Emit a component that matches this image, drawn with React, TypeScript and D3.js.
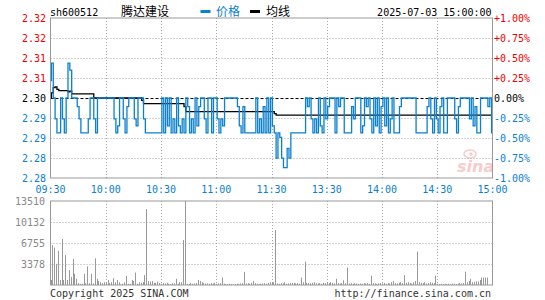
import * as d3 from "d3";

// per-minute price, 09:30 .. 11:30 then 13:01 .. 15:00 (241 points)
const prices = [
  2.305, 2.31, 2.30, 2.294, 2.29, 2.29, 2.30, 2.294, 2.29, 2.30,
  2.31, 2.308, 2.30, 2.30, 2.30, 2.2975, 2.294, 2.29, 2.29, 2.29,
  2.29, 2.294, 2.30, 2.30, 2.294, 2.29, 2.30, 2.30, 2.30, 2.30,
  2.30, 2.30, 2.30, 2.30, 2.30, 2.294, 2.29, 2.292, 2.30, 2.30,
  2.294, 2.29, 2.2975, 2.30, 2.30, 2.30, 2.294, 2.292, 2.30, 2.30,
  2.30, 2.294, 2.29, 2.29, 2.29, 2.29, 2.29, 2.29, 2.29, 2.29,
  2.29, 2.30, 2.29, 2.30, 2.292, 2.30, 2.29, 2.294, 2.29, 2.30,
  2.292, 2.29, 2.294, 2.29, 2.30, 2.2975, 2.29, 2.294, 2.29, 2.30,
  2.292, 2.2975, 2.30, 2.30, 2.294, 2.29, 2.30, 2.30, 2.29, 2.30,
  2.30, 2.294, 2.29, 2.294, 2.292, 2.30, 2.30, 2.30, 2.30, 2.30,
  2.30, 2.30, 2.2975, 2.292, 2.29, 2.2975, 2.29, 2.29, 2.29, 2.29,
  2.29, 2.29, 2.30, 2.29, 2.294, 2.29, 2.2975, 2.29, 2.30, 2.29,
  2.30, 2.292, 2.29, 2.2827, 2.29, 2.2887, 2.2827, 2.28, 2.28, 2.2855,
  2.2827, 2.29, 2.29, 2.29, 2.29, 2.29, 2.29, 2.29, 2.29, 2.30,
  2.2975, 2.30, 2.294, 2.29, 2.294, 2.29, 2.30, 2.292, 2.29, 2.30,
  2.294, 2.2975, 2.30, 2.30, 2.30, 2.29, 2.30, 2.2975, 2.30, 2.30,
  2.29, 2.29, 2.29, 2.29, 2.2975, 2.294, 2.30, 2.30, 2.30, 2.29,
  2.292, 2.30, 2.2975, 2.30, 2.294, 2.29, 2.30, 2.292, 2.30, 2.29,
  2.2975, 2.30, 2.292, 2.30, 2.29, 2.294, 2.30, 2.29, 2.29, 2.29,
  2.2975, 2.30, 2.30, 2.30, 2.30, 2.30, 2.30, 2.30, 2.30, 2.29,
  2.29, 2.29, 2.29, 2.29, 2.29, 2.2975, 2.30, 2.294, 2.29, 2.30,
  2.294, 2.29, 2.2975, 2.30, 2.29, 2.29, 2.30, 2.30, 2.30, 2.30,
  2.294, 2.29, 2.2975, 2.30, 2.30, 2.30, 2.30, 2.30, 2.294, 2.30,
  2.292, 2.2975, 2.29, 2.29, 2.30, 2.30, 2.30, 2.30, 2.2975, 2.30,
  2.29,
];

// average price line (均线)
const averages = [
  2.300, 2.3015, 2.303, 2.3032, 2.3025, 2.3021, 2.3021, 2.3021, 2.3021, 2.3021,
  2.3018, 2.302, 2.3012, 2.3012, 2.3012, 2.3012, 2.3012, 2.3012, 2.3012, 2.3012,
  2.3012, 2.3012, 2.3012, 2.3012, 2.30, 2.30, 2.30, 2.30, 2.30, 2.30,
  2.30, 2.30, 2.30, 2.30, 2.30, 2.30, 2.30, 2.30, 2.30, 2.30,
  2.30, 2.30, 2.30, 2.30, 2.30, 2.30, 2.30, 2.30, 2.30, 2.30,
  2.2993, 2.2984, 2.2984, 2.2984, 2.2984, 2.2984, 2.2984, 2.2984, 2.2984, 2.2984,
  2.2984, 2.2984, 2.2984, 2.2984, 2.2984, 2.2984, 2.2984, 2.2984, 2.2984, 2.2984,
  2.2984, 2.2984, 2.2984, 2.2975, 2.2961, 2.2961, 2.2961, 2.2961, 2.2961, 2.2961,
  2.2961, 2.2961, 2.2961, 2.2961, 2.2961, 2.2961, 2.2961, 2.2961, 2.2961, 2.2961,
  2.2961, 2.2961, 2.2961, 2.2961, 2.2961, 2.2961, 2.2961, 2.2961, 2.2961, 2.2961,
  2.2961, 2.2961, 2.2961, 2.2961, 2.2961, 2.2961, 2.2961, 2.2961, 2.2961, 2.2961,
  2.2961, 2.2961, 2.2961, 2.2961, 2.2961, 2.2961, 2.2961, 2.2961, 2.2961, 2.2961,
  2.2961, 2.2961, 2.2955, 2.2951, 2.2951, 2.2951, 2.2951, 2.2951, 2.2951, 2.2951,
  2.2951, 2.2951, 2.2951, 2.2951, 2.2951, 2.2951, 2.2951, 2.2951, 2.2951, 2.2951,
  2.2951, 2.2951, 2.2951, 2.2951, 2.2951, 2.2951, 2.2951, 2.2951, 2.2951, 2.2951,
  2.2951, 2.2951, 2.2951, 2.2951, 2.2951, 2.2951, 2.2951, 2.2951, 2.2951, 2.2951,
  2.2951, 2.2951, 2.2951, 2.2951, 2.2951, 2.2951, 2.2951, 2.2951, 2.2951, 2.2951,
  2.2951, 2.2951, 2.2951, 2.2951, 2.2951, 2.2951, 2.2951, 2.2951, 2.2951, 2.2951,
  2.2951, 2.2951, 2.2951, 2.2951, 2.2951, 2.2951, 2.2951, 2.2951, 2.2951, 2.2951,
  2.2951, 2.2951, 2.2951, 2.2951, 2.2951, 2.2951, 2.2951, 2.2951, 2.2951, 2.2951,
  2.2951, 2.2951, 2.2951, 2.2951, 2.2951, 2.2951, 2.2951, 2.2951, 2.2951, 2.2951,
  2.2951, 2.2951, 2.2951, 2.2951, 2.2951, 2.2951, 2.2951, 2.2951, 2.2951, 2.2951,
  2.2951, 2.2951, 2.2951, 2.2951, 2.2951, 2.2951, 2.2951, 2.2951, 2.2951, 2.2951,
  2.2951, 2.2951, 2.2951, 2.2951, 2.2951, 2.2951, 2.2951, 2.2951, 2.2951, 2.2951,
  2.2951,
];

// per-minute volume (手)
const volumes = [
  800, 6400, 6000, 3400, 5500, 800, 7400, 800, 4800, 800,
  2400, 1300, 4200, 1800, 1000, 300, 200, 200, 1800, 300,
  3000, 300, 1800, 250, 4300, 1000, 650, 450, 300, 450,
  350, 800, 300, 450, 1100, 450, 800, 450, 100, 200,
  450, 1450, 200, 200, 800, 650, 2000, 200, 450, 350,
  450, 1600, 12200, 650, 550, 650, 350, 350, 550, 300,
  200, 300, 250, 350, 200, 150, 300, 250, 1000, 200,
  450, 450, 7250, 13510, 200, 150, 350, 200, 250, 300,
  800, 650, 450, 300, 200, 250, 200, 300, 250, 350,
  200, 250, 300, 1200, 200, 150, 150, 200, 150, 100,
  150, 200, 150, 250, 300, 2100, 250, 300, 200, 350,
  650, 300, 200, 150, 200, 250, 300, 200, 350, 450,
  450, 450, 8850, 250, 200, 300, 250, 450, 200, 250,
  300, 350, 350, 250, 300, 200, 1200, 450, 3750, 350,
  300, 250, 350, 450, 300, 250, 300, 200, 350, 300,
  450, 300, 450, 350, 250, 1000, 300, 250, 300, 750,
  300, 2800, 250, 300, 200, 300, 250, 200, 250, 200,
  300, 250, 300, 200, 1500, 300, 250, 200, 250, 300,
  250, 350, 200, 300, 250, 450, 650, 300, 250, 350,
  450, 300, 1600, 350, 450, 300, 250, 450, 650, 5360,
  450, 350, 300, 450, 250, 300, 450, 350, 300, 1500,
  200, 150, 200, 150, 200, 150, 200, 150, 250, 200,
  150, 200, 300, 250, 300, 2150, 450, 650, 1000, 450,
  500, 600, 550, 800, 1200, 1200, 1200, 1200, 0, 0,
  0,
];

const prevClose = 2.30;
const pctTicks = [1, 0.75, 0.5, 0.25, 0, -0.25, -0.5, -0.75, -1];
const priceLabels = ["2.32", "2.32", "2.31", "2.31", "2.30", "2.29", "2.29", "2.28", "2.28"];
const pctLabels = ["+1.00%", "+0.75%", "+0.50%", "+0.25%", "0.00%", "-0.25%", "-0.50%", "-0.75%", "-1.00%"];
const timeLabels = ["09:30", "10:00", "10:30", "11:00", "11:30", "13:30", "14:00", "14:30", "15:00"];
const volMax = 13510;
const volTicks = [13510, 10132, 6755, 3378];

const BLUE = "#0a80d0";
const RED = "#f00000";
const GRID = "#a8a8a8";
const mono = "DejaVu Sans Mono, monospace";

function App() {
  const left = 50.5, right = 492.5;
  const x = d3.scaleLinear().domain([0, 240]).range([left, right]);
  const y = d3.scaleLinear().domain([-1, 1]).range([178, 18]);
  const py = (p: number) => y(((p - prevClose) / prevClose) * 100);
  const yv = d3.scaleLinear().domain([0, volMax]).range([285, 201]);
  const tx = d3.scaleLinear().domain([0, 8]).range([left, right]);

  const priceLine = d3.line<number>().x((_, i) => x(i)).y((d) => py(d)).curve(d3.curveStep);

  const labelColor = (p: number) => (p > 0 ? RED : p < 0 ? BLUE : "#000");

  return (
    <svg width={545} height={300} style={{ position: "absolute", left: 0, top: 0, background: "#fff" }}
      fontFamily={mono} fontSize={10}>
      {/* header */}
      <text x={50} y={15.5} fill="#000">sh600512</text>
      <text x={121} y={15.5} fontFamily="Noto Sans CJK SC" fontSize={12} fill="#000">腾达建设</text>
      <rect x={200.5} y={10} width={10} height={3} fill={BLUE} />
      <text x={216} y={15.5} fontFamily="Noto Sans CJK SC" fontSize={12} fill={BLUE}>价格</text>
      <rect x={250} y={10} width={10} height={3} fill="#000" />
      <text x={266} y={15.5} fontFamily="Noto Sans CJK SC" fontSize={12} fill="#000">均线</text>
      <text x={491.5} y={15.5} textAnchor="end" fill="#000">2025-07-03 15:00:00</text>

      {/* price grid */}
      {pctTicks.slice(1, -1).filter((p) => p !== 0).map((p) => (
        <line key={"h" + p} x1={left} x2={right} y1={Math.round(y(p)) + 0.5} y2={Math.round(y(p)) + 0.5}
          stroke={GRID} strokeDasharray="1,2" />
      ))}
      {d3.range(1, 8).map((k) => (
        <line key={"v" + k} x1={Math.round(tx(k)) + 0.5} x2={Math.round(tx(k)) + 0.5} y1={18} y2={178}
          stroke={GRID} strokeDasharray="1,2" />
      ))}
      <line x1={left} x2={right} y1={98.5} y2={98.5} stroke="#000" strokeDasharray="3,2" />

      {/* watermark */}
      <g opacity={0.4}>
        <ellipse cx={470} cy={154} rx={6} ry={4} fill="none" stroke="#f08080" strokeWidth={1.5} />
        <circle cx={471} cy={154} r={1.8} fill="#f08080" />
        <text x={457} y={172} fontFamily="DejaVu Sans" fontStyle="italic" fontWeight="bold" fontSize={16} fill="#f08080">sina</text>
      </g>

      {/* lines */}
      <path d={priceLine(averages) || ""} fill="none" stroke="#000" strokeWidth={1.3} />
      <path d={priceLine(prices) || ""} fill="none" stroke={BLUE} strokeWidth={1.3} />

      <rect x={left} y={18} width={right - left} height={160} fill="none" stroke="#999" />

      {/* price labels */}
      {pctTicks.map((p, i) => (
        <g key={"l" + i}>
          <text x={46} y={y(p) + 4} textAnchor="end" fill={labelColor(p)}>{priceLabels[i]}</text>
          <text x={494} y={y(p) + 4} fill={labelColor(p)}>{pctLabels[i]}</text>
        </g>
      ))}

      {/* time labels */}
      {timeLabels.map((t, k) => (
        <text key={t} x={tx(k)} y={193} textAnchor="middle" fill={BLUE}>{t}</text>
      ))}

      {/* volume panel */}
      {volTicks.slice(1).map((v) => (
        <line key={"vh" + v} x1={left} x2={right} y1={Math.round(yv(v)) + 0.5} y2={Math.round(yv(v)) + 0.5}
          stroke={GRID} strokeDasharray="1,2" />
      ))}
      {d3.range(1, 8).map((k) => (
        <line key={"vv" + k} x1={Math.round(tx(k)) + 0.5} x2={Math.round(tx(k)) + 0.5} y1={201} y2={285}
          stroke={GRID} strokeDasharray="1,2" />
      ))}
      {volumes.map((v, i) => (
        v > 0 ? <line key={"b" + i} x1={Math.round(x(i)) + 0.5} x2={Math.round(x(i)) + 0.5} y1={285} y2={yv(v)}
          stroke="#999" strokeWidth={1} /> : null
      ))}
      <rect x={left} y={201} width={right - left} height={84} fill="none" stroke="#999" />
      {volTicks.map((v) => (
        <text key={"vl" + v} x={45} y={yv(v) + 4} textAnchor="end" fill="#888">{v}</text>
      ))}

      {/* footer */}
      <text x={50} y={297} fill="#333">Copyright 2025 SINA.COM</text>
      <text x={491} y={297} textAnchor="end" fill="#333">http://finance.sina.com.cn</text>
    </svg>
  );
}

export default App;
